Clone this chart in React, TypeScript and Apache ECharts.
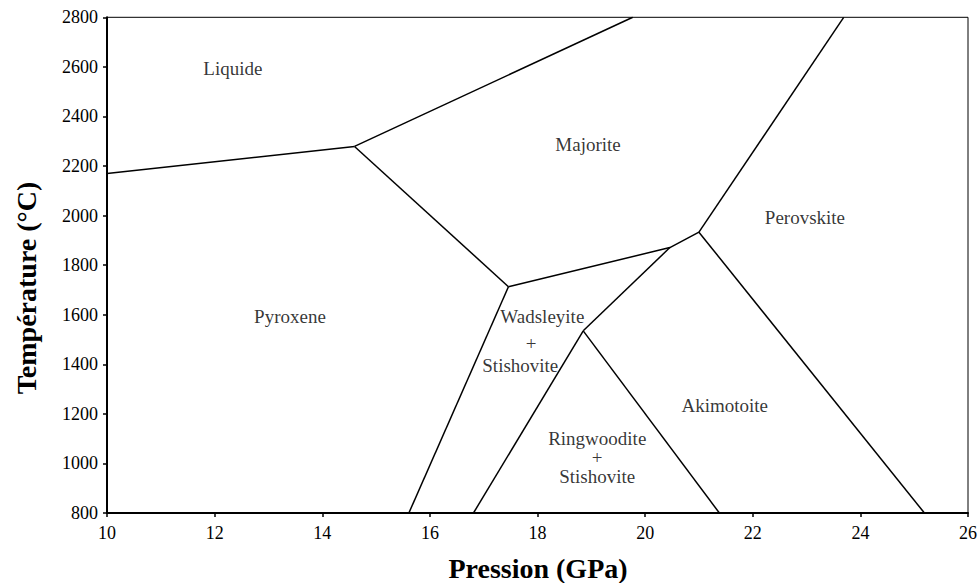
import React, { useEffect, useRef } from "react";
import * as echarts from "echarts";

// Phase boundaries (Pression GPa, Température °C)
const liquidPyroxeneBoundary = [[10, 2170], [14.6, 2279]];
const liquidMajoriteBoundary = [[14.6, 2279], [19.77, 2800]];
const pyroxeneMajoriteBoundary = [[14.6, 2279], [17.46, 1713]];
const majoriteLowerBoundary = [[17.46, 1713], [20.46, 1871], [21.0, 1933]];
const majoritePerovskiteBoundary = [[21.0, 1933], [23.69, 2800]];
const akimotoitePerovskiteBoundary = [[21.0, 1933], [25.19, 800]];
const pyroxeneWadsleyiteBoundary = [[17.46, 1713], [15.61, 800]];
const wadsleyiteAkimotoiteBoundary = [[20.46, 1871], [18.85, 1535]];
const wadsleyiteRingwooditeBoundary = [[18.85, 1535], [16.81, 800]];
const ringwooditeAkimotoiteBoundary = [[18.85, 1535], [21.38, 800]];

const boundaries = [
  liquidPyroxeneBoundary,
  liquidMajoriteBoundary,
  pyroxeneMajoriteBoundary,
  majoriteLowerBoundary,
  majoritePerovskiteBoundary,
  akimotoitePerovskiteBoundary,
  pyroxeneWadsleyiteBoundary,
  wadsleyiteAkimotoiteBoundary,
  wadsleyiteRingwooditeBoundary,
  ringwooditeAkimotoiteBoundary,
];

// Phase field labels
const labelTexts = [
  "Liquide", "Majorite", "Perovskite", "Pyroxene",
  "Wadsleyite", "+", "Stishovite",
  "Akimotoite",
  "Ringwoodite\n+\nStishovite",
];
const labelPressures = [12.34, 18.94, 22.97, 13.4, 18.09, 17.88, 17.68, 21.48, 19.11];
const labelTemperatures = [2592, 2285, 1992, 1593, 1593, 1485, 1395, 1233, 1025];

const xTitle = "Pression (GPa)";
const yTitle = "Température (°C)";

const FONT = "Times New Roman, Liberation Serif, serif";

export default function App() {
  const ref = useRef<HTMLDivElement>(null);
  useEffect(() => {
    if (!ref.current) return;
    const chart = echarts.init(ref.current, undefined, { renderer: "svg" });
    const lineSeries = boundaries.map((b) => ({
      type: "line",
      data: b,
      symbol: "none",
      lineStyle: { color: "#000", width: 1.5 },
      silent: true,
    }));
    chart.setOption({
      animation: false,
      backgroundColor: "#fff",
      textStyle: { fontFamily: FONT },
      grid: {
        left: 107,
        right: 11,
        top: 17.3,
        bottom: 70,
        show: true,
        borderColor: "#000",
        borderWidth: 1,
      },
      xAxis: {
        type: "value",
        min: 10,
        max: 26,
        interval: 2,
        axisLine: { show: true, lineStyle: { color: "#000", width: 2 } },
        axisTick: { show: true, length: 4, lineStyle: { color: "#000", width: 1.5 } },
        axisLabel: {
          color: "#000",
          fontFamily: FONT,
          fontSize: 18,
          margin: 11,
          formatter: (v: number) => String(v),
        },
        splitLine: { show: false },
      },
      yAxis: {
        type: "value",
        min: 800,
        max: 2800,
        interval: 200,
        axisLine: { show: true, lineStyle: { color: "#000", width: 2 } },
        axisTick: { show: true, length: 4, lineStyle: { color: "#000", width: 1.5 } },
        axisLabel: {
          color: "#000",
          fontFamily: FONT,
          fontSize: 18,
          margin: 9,
          formatter: (v: number) => String(v),
        },
        splitLine: { show: false },
      },
      graphic: [
        {
          type: "text",
          x: 538,
          y: 568,
          style: {
            text: xTitle,
            fontFamily: FONT,
            fontSize: 28,
            fontWeight: "bold",
            fill: "#000",
            textAlign: "center",
            textVerticalAlign: "middle",
          },
        },
        {
          type: "text",
          x: 26,
          y: 288,
          rotation: Math.PI / 2,
          style: {
            text: yTitle,
            fontFamily: FONT,
            fontSize: 28,
            fontWeight: "bold",
            fill: "#000",
            textAlign: "center",
            textVerticalAlign: "middle",
          },
        },
      ],
      series: [
        ...lineSeries,
        {
          type: "scatter",
          symbolSize: 1,
          itemStyle: { color: "rgba(0,0,0,0)" },
          silent: true,
          data: labelTexts.map((t, i) => ({
            name: t,
            value: [labelPressures[i], labelTemperatures[i]],
          })),
          label: {
            show: true,
            position: "inside",
            formatter: "{b}",
            color: "#000",
            fontFamily: FONT,
            fontSize: 19,
            lineHeight: 19,
            align: "center",
          },
        },
      ],
    });
    return () => chart.dispose();
  }, []);
  return (
    <div
      ref={ref}
      style={{ position: "fixed", left: 0, top: 0, width: 980, height: 583 }}
    />
  );
}
